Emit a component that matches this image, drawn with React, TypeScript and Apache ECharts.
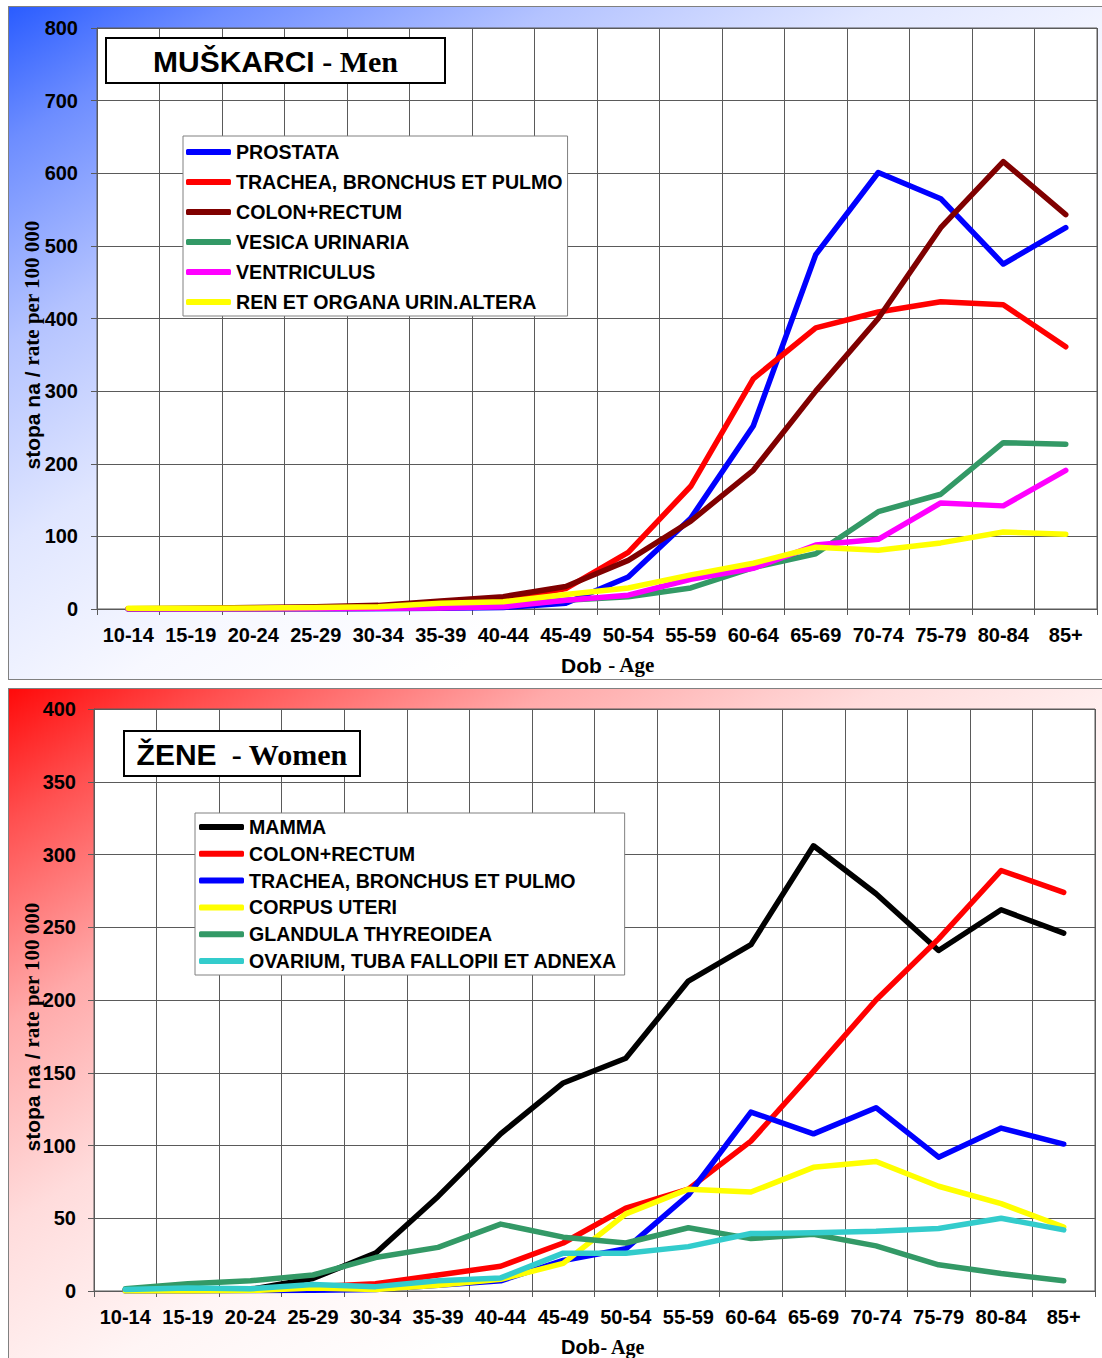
import React, { useEffect, useRef } from 'react';
import * as echarts from 'echarts';

const categories = ['10-14', '15-19', '20-24', '25-29', '30-34', '35-39', '40-44', '45-49', '50-54', '55-59', '60-64', '65-69', '70-74', '75-79', '80-84', '85+'];

// Men
const menProstata = [0, 0, 0, 0, 0.5, 1, 2, 8, 44, 125, 252, 488, 601, 565, 475, 525];
const menTrachea = [0.2, 0.3, 0.5, 1, 2, 6, 12, 28, 78, 169, 317, 387, 409, 423, 419, 361];
const menColon = [0.5, 1, 2, 3, 5, 11, 17, 31, 67, 121, 191, 300, 400, 525, 616, 543];
const menVesica = [0, 0, 0.2, 0.5, 1, 2, 5, 12, 17, 29, 57, 76, 134, 158, 229, 227];
const menVentriculus = [0, 0, 0.2, 0.5, 1, 1.5, 3, 12, 19, 41, 56, 88, 96, 146, 142, 191];
const menRen = [1, 1, 1.5, 2, 3, 8, 10, 20, 29, 47, 63, 85, 81, 91, 106, 103];

// Women
const womenMamma = [0.5, 1, 1, 8.6, 26, 65, 108, 143, 160, 213, 238, 306, 273, 234, 262, 246];
const womenColon = [0.5, 0.5, 1.5, 3, 5, 11, 17, 33, 57, 70, 103, 151, 200, 242, 289, 274];
const womenTrachea = [0, 0, 0.3, 0.5, 1, 4, 7, 21, 29, 66, 123, 108, 126, 92, 112, 101];
const womenCorpus = [0, 0, 0.3, 2, 1, 4, 8, 19, 53, 70, 68, 85, 89, 72, 60, 44];
const womenGlandula = [1.5, 5, 7, 11, 23, 30, 46, 37, 33, 43.5, 36, 39, 31, 18, 12, 7];
const womenOvarium = [1, 2, 1.5, 4.5, 3, 7, 9, 26, 26, 30.5, 39.5, 40, 41, 43, 50, 42];

const menTicks = { min: 0, max: 800, interval: 100 };
const womenTicks = { min: 0, max: 400, interval: 50 };

const SANS = '"Liberation Sans", Arial, sans-serif';
const SERIF = '"Liberation Serif", "Times New Roman", serif';
const GRIDC = '#5a5a5a';

const menSeries = [
  { name: 'M:PROSTATA', data: menProstata, color: '#0000ff' },
  { name: 'M:TRACHEA, BRONCHUS ET PULMO', data: menTrachea, color: '#ff0000' },
  { name: 'M:COLON+RECTUM', data: menColon, color: '#800000' },
  { name: 'M:VESICA URINARIA', data: menVesica, color: '#339966' },
  { name: 'M:VENTRICULUS', data: menVentriculus, color: '#ff00ff' },
  { name: 'M:REN ET ORGANA URIN.ALTERA', data: menRen, color: '#ffff00' },
];
const womenSeries = [
  { name: 'W:MAMMA', data: womenMamma, color: '#000000' },
  { name: 'W:COLON+RECTUM', data: womenColon, color: '#ff0000' },
  { name: 'W:TRACHEA, BRONCHUS ET PULMO', data: womenTrachea, color: '#0000ff' },
  { name: 'W:CORPUS UTERI', data: womenCorpus, color: '#ffff00' },
  { name: 'W:GLANDULA THYREOIDEA', data: womenGlandula, color: '#339966' },
  { name: 'W:OVARIUM, TUBA FALLOPII ET ADNEXA', data: womenOvarium, color: '#33cccc' },
];

function xAxisFor(gridIndex: number) {
  return {
    type: 'category',
    gridIndex,
    data: categories,
    boundaryGap: true,
    axisLine: { show: true, lineStyle: { color: GRIDC, width: 1 } },
    axisTick: { show: true, length: 6, interval: 0, lineStyle: { color: GRIDC } },
    splitLine: { show: true, interval: 0, lineStyle: { color: GRIDC, width: 1 } },
    axisLabel: {
      interval: 0,
      margin: 16,
      color: '#000',
      fontFamily: SANS,
      fontWeight: 'bold',
      fontSize: 20,
      lineHeight: 20,
    },
  };
}

function yAxisFor(gridIndex: number, t: { min: number; max: number; interval: number }, margin: number) {
  return {
    type: 'value',
    gridIndex,
    min: t.min,
    max: t.max,
    interval: t.interval,
    axisLine: { show: true, lineStyle: { color: GRIDC, width: 1 } },
    axisTick: { show: true, length: 6, lineStyle: { color: GRIDC } },
    splitLine: { show: true, lineStyle: { color: GRIDC, width: 1 } },
    axisLabel: {
      margin,
      color: '#000',
      fontFamily: SANS,
      fontWeight: 'bold',
      fontSize: 20,
    },
  };
}

function lineSeries(s: { name: string; data: number[]; color: string }, idx: number) {
  return {
    type: 'line',
    name: s.name,
    data: s.data,
    xAxisIndex: idx,
    yAxisIndex: idx,
    showSymbol: false,
    symbol: 'none',
    smooth: false,
    itemStyle: { color: s.color },
    lineStyle: { color: s.color, width: 5.5, cap: 'round', join: 'round' },
    emphasis: { disabled: true },
  };
}

function legendFor(names: string[], left: number, top: number, itemGap: number, padding: number[]) {
  return {
    orient: 'vertical',
    left,
    top,
    data: names,
    icon: 'roundRect',
    itemWidth: 45,
    itemHeight: 6,
    itemGap,
    padding,
    selectedMode: false,
    backgroundColor: '#ffffff',
    borderColor: '#808080',
    borderWidth: 1,
    formatter: (n: string) => n.slice(2),
    textStyle: {
      color: '#000',
      fontFamily: SANS,
      fontWeight: 'bold',
      fontSize: 19.6,
      lineHeight: 20,
    },
  };
}

const richName = (size: number) => ({
  a: { fontFamily: SANS, fontWeight: 'bold', fontSize: size, fill: '#000', color: '#000' },
  b: { fontFamily: SERIF, fontWeight: 'bold', fontSize: size, fill: '#000', color: '#000' },
});

function titleBox(x: number, y: number, w: number, h: number, text: string) {
  return {
    type: 'group',
    z: 100,
    children: [
      {
        type: 'rect',
        shape: { x, y, width: w, height: h },
        style: { fill: '#ffffff', stroke: '#000000', lineWidth: 2 },
        z: 100,
      },
      {
        type: 'text',
        x: x + w / 2,
        y: y + h / 2 + 1,
        z: 101,
        style: {
          text,
          rich: richName(30),
          align: 'center',
          verticalAlign: 'middle',
        },
      },
    ],
  };
}

function textEl(x: number, y: number, text: string, size: number, rotation = 0) {
  return {
    type: 'text',
    x,
    y,
    rotation,
    z: 100,
    style: {
      text,
      rich: richName(size),
      align: 'center',
      verticalAlign: 'middle',
    },
  };
}

export default function App() {
  const ref = useRef<HTMLDivElement>(null);
  useEffect(() => {
    document.body.style.margin = '0';
    document.body.style.overflow = 'hidden';
    const chart = echarts.init(ref.current as HTMLDivElement, undefined, { renderer: 'svg' });
    const option = {
      animation: false,
      grid: [
        { left: 97, top: 28, width: 1000, height: 581, show: true, backgroundColor: '#ffffff', borderColor: GRIDC, borderWidth: 1 },
        { left: 94, top: 709, width: 1001, height: 582, show: true, backgroundColor: '#ffffff', borderColor: GRIDC, borderWidth: 1 },
      ],
      xAxis: [xAxisFor(0), xAxisFor(1)],
      yAxis: [yAxisFor(0, menTicks, 19), yAxisFor(1, womenTicks, 18)],
      legend: [
        legendFor(menSeries.map((s) => s.name), 183, 136, 10, [6, 5, 4, 3]),
        legendFor(womenSeries.map((s) => s.name), 195, 813, 6.8, [4, 7, 4, 4]),
      ],
      series: [
        ...menSeries.map((s) => lineSeries(s, 0)),
        ...womenSeries.map((s) => lineSeries(s, 1)),
      ],
      graphic: {
        elements: [
          titleBox(106, 38, 339, 45, '{a|MUŠKARCI}{b| - Men}'),
          titleBox(124, 731, 236, 45, '{a|ŽENE}{b|  - Women}'),
          textEl(32, 345, '{a|stopa na / }{b|rate per 100 000}', 21, Math.PI / 2),
          textEl(32, 1027, '{a|stopa na / }{b|rate per 100 000}', 21, Math.PI / 2),
          textEl(608, 665, '{a|Dob }{b|- Age}', 21),
          textEl(603, 1347, '{a|Dob}{b|- Age}', 20),
        ],
      },
    };
    chart.setOption(option as any);
    return () => chart.dispose();
  }, []);

  return (
    <div style={{ position: 'relative', width: 1102, height: 1358, overflow: 'hidden', background: '#ffffff' }}>
      <div
        style={{
          position: 'absolute',
          left: 8,
          top: 6,
          width: 1094,
          height: 674,
          boxSizing: 'border-box',
          borderTop: '1px solid #808080',
          borderLeft: '1px solid #808080',
          borderBottom: '1px solid #808080',
          background:
            'linear-gradient(to bottom right, #2a5cff 0%, #6d8dff 10%, #b4c3ff 25%, #e0e6ff 40%, #f7f8ff 55%, #ffffff 70%)',
        }}
      />
      <div
        style={{
          position: 'absolute',
          left: 8,
          top: 688,
          width: 1094,
          height: 670,
          boxSizing: 'border-box',
          borderTop: '1px solid #808080',
          borderLeft: '1px solid #808080',
          background:
            'linear-gradient(to bottom right, #ff0a0a 0%, #ff5050 10%, #ffaaaa 25%, #ffdcdc 40%, #fff5f5 55%, #ffffff 70%)',
        }}
      />
      <div ref={ref} style={{ position: 'absolute', left: 0, top: 0, width: 1102, height: 1358 }} />
    </div>
  );
}
